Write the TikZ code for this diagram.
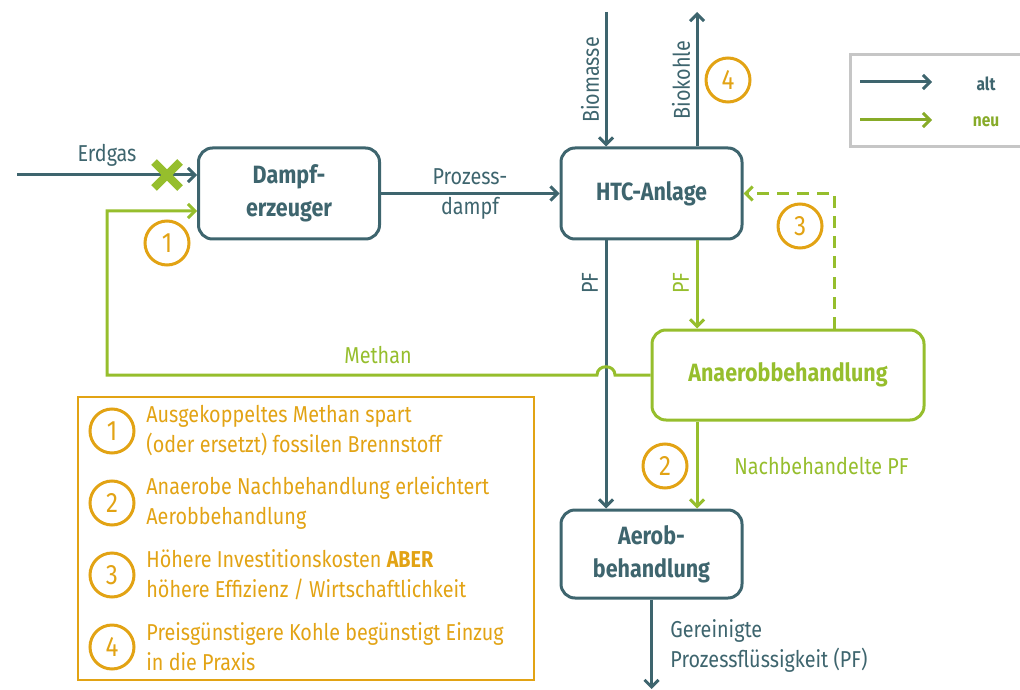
\documentclass[tikz,border=0pt]{standalone}
\usepackage{fontspec}
\setmainfont[FakeStretch=0.86]{Fira Sans}
\usetikzlibrary{arrows.meta, positioning}
\definecolor{alt}{RGB}{62,101,110}
\definecolor{neu}{RGB}{150,190,45}
\definecolor{gold}{RGB}{226,163,20}
\tikzset{
  box/.style={draw=alt, line width=1.5pt, rounded corners=7pt, minimum width=90.5pt,
    minimum height=45.5pt, align=center, text=alt,
    font=\bfseries\fontsize{12.5}{16.5}\selectfont},
  altline/.style={draw=alt, line width=1.5pt, -{Straight Barb[length=3.5pt,width=7pt]}},
  neuline/.style={draw=neu, line width=1.5pt, -{Straight Barb[length=3.5pt,width=7pt]}},
  lbl/.style={font=\fontsize{11.5}{15}\selectfont, text=alt, inner sep=1pt},
  numcircle/.style={circle, draw=gold, line width=1.5pt, minimum size=22pt, inner sep=0pt,
    text=gold, font=\fontsize{14}{14}\selectfont},
  notetext/.style={font=\fontsize{11.5}{15}\selectfont, text=gold, align=left, anchor=west, inner sep=0pt}
}
\begin{document}
\begin{tikzpicture}[x=0.5pt, y=-0.5pt]
    \useasboundingbox (0,0) rectangle (1020,689);
    % Boxes
    \node[box] (dampf) at (289,193.5) {Dampf-\\erzeuger};
    \node[box] (htc) at (651.5,193.5) {HTC-Anlage};
    \node[box, draw=neu, text=neu, minimum width=136pt, minimum height=45pt] (anaerob) at (788,375) {Anaerobbehandlung};
    \node[box, minimum height=44pt] (aerob) at (651.5,554) {Aerob-\\behandlung};
    % Free ends
    \coordinate (erdgas) at (17,175);
    \coordinate (biomasse) at (606,12);
    \coordinate (biokohle) at (697,12);
    \coordinate (ausgang) at (651.5,689);
    % Inputs and outputs
    \draw[altline] (erdgas) -- (erdgas -| dampf.west);
    \node[lbl] (erdgaslbl) at (107,155) {Erdgas};
    \draw[neu, line width=4pt] (154,162) -- (180,188) (154,188) -- (180,162);
    \draw[altline] (biomasse) -- (biomasse |- htc.north);
    \node[lbl, rotate=90] (biomasselbl) at (590,80) {Biomasse};
    \draw[altline] (biokohle |- htc.north) -- (biokohle);
    \node[lbl, rotate=90] (biokohlelbl) at (681,80) {Biokohle};
    \draw[altline] (aerob.south) -- (ausgang);
    \node[lbl, align=left, anchor=west] (gereinigt) at (668,646) {Gereinigte\\Prozessflüssigkeit (PF)};
    % Process connections
    \draw[altline] (dampf.east) -- (htc.west);
    \node[lbl, align=center] (dampflbl) at (470,194) {Prozess-\\dampf};
    \draw[altline] ([xshift=-22.75pt]htc.south) -- ([xshift=-22.75pt]aerob.north);
    \node[lbl, rotate=90] (pfalt) at (590,283) {PF};
    \draw[neuline] ([xshift=22.75pt]htc.south) -- ([xshift=22.75pt]htc.south |- anaerob.north);
    \node[lbl, rotate=90, text=neu] (pfneu) at (681,283) {PF};
    \draw[neuline] ([xshift=22.75pt]aerob.north |- anaerob.south) -- ([xshift=22.75pt]aerob.north);
    \node[lbl, text=neu, anchor=west] (nachlbl) at (732,466) {Nachbehandelte PF};
    \draw[neuline, dash pattern=on 6pt off 4pt] ([xshift=23pt]anaerob.north) |- (htc.east);
    % Methane recycle with line jump
    \draw[neuline] (anaerob.west) -- (615,375) .. controls (615,364) and (597,364) .. (597,375)
        -- (107,375) |- ([yshift=-8.75pt]dampf.west);
    \node[lbl, text=neu] (methanlbl) at (378,355) {Methan};
    % Markers
    \node[numcircle] (m1) at (167,243) {1};
    \node[numcircle] (m2) at (665,466) {2};
    \node[numcircle] (m3) at (800,226) {3};
    \node[numcircle] (m4) at (728,80) {4};
    % Legend
    \draw[gray!45, line width=1.5pt] (1020,55) -- (850,55) -- (850,147) -- (1020,147);
    \coordinate (legalt) at (860,82);
    \coordinate (legneu) at (860,120);
    \draw[altline] (legalt) -- ++(72,0);
    \node[font=\bfseries\fontsize{9}{9}\selectfont, text=alt] (altlbl) at (986,84) {alt};
    \draw[neuline, draw=neu!90!black] (legneu) -- ++(72,0);
    \node[font=\bfseries\fontsize{9}{9}\selectfont, text=neu!90!black] (neulbl) at (986,122) {neu};
    % Notes
    \draw[gold, line width=1.3pt] (78,397) rectangle (534,680);
    \foreach \n/\y/\txt in {1/431/{Ausgekoppeltes Methan spart\\(oder ersetzt) fossilen Brennstoff},
        2/503/{Anaerobe Nachbehandlung erleichtert\\Aerobbehandlung},
        3/575/{Höhere Investitionskosten \textbf{ABER}\\höhere Effizienz / Wirtschaftlichkeit},
        4/647/{Preisgünstigere Kohle begünstigt Einzug\\in die Praxis}} {
        \node[numcircle] (note\n) at (112,\y) {\n};
        \node[notetext] (notetext\n) at (146,\y) {\txt};
    }
\end{tikzpicture}
\end{document}
